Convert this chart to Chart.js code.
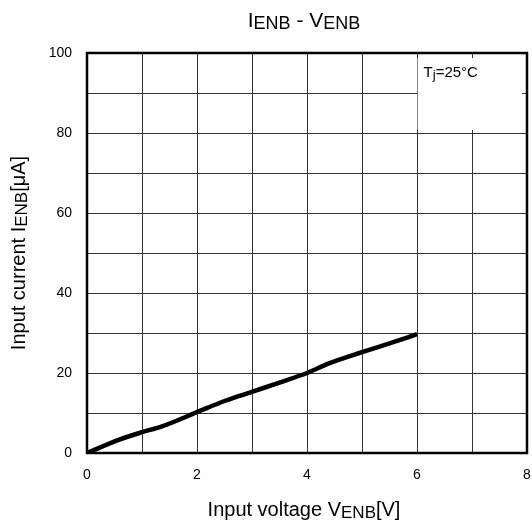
<!DOCTYPE html>
<html>
<head>
<meta charset="utf-8">
<script src="https://cdn.jsdelivr.net/npm/chart.js@4/dist/chart.umd.min.js"></script>
<style>
  html, body { margin: 0; padding: 0; background: #fff; }
  #wrap { width: 532px; height: 526px; }
</style>
</head>
<body>
<div id="wrap"><canvas id="c" width="532" height="526"></canvas></div>
<script>
// ---- data ----
const voltage = [0, 0.6, 1.0, 1.35, 2.0, 2.5, 3.0, 3.5, 4.0, 4.4, 5.0, 5.5, 6.0];
const current = [0, 3.4, 5.2, 6.6, 10.2, 13.0, 15.3, 17.6, 20.0, 22.4, 25.2, 27.4, 29.7];
const xTickLabels = [0, 2, 4, 6, 8];
const yTickLabels = [0, 20, 40, 60, 80, 100];
const titleParts = [['I', false], ['ENB', true], [' - V', false], ['ENB', true]];
const xTitleParts = [['Input voltage V', false], ['ENB', true], ['[V]', false]];
const yTitleParts = [['Input current I', false], ['ENB', true], ['[\u03BCA]', false]];
const noteParts = [['T', false], ['j', true], ['=25\u00B0C', false]];
const noteBox = { x0: 6, x1: 8, y0: 80, y1: 100 };

const FONT = '"Liberation Sans", Arial, sans-serif';

function richWidth(ctx, parts, size, subSize) {
  let w = 0;
  for (const [t, sub] of parts) {
    ctx.font = (sub ? subSize : size) + 'px ' + FONT;
    w += ctx.measureText(t).width;
  }
  return w;
}
function drawRich(ctx, parts, x, y, size, subSize, shift, align) {
  const w = richWidth(ctx, parts, size, subSize);
  let cx = align === 'center' ? x - w / 2 : x;
  ctx.textBaseline = 'alphabetic';
  ctx.textAlign = 'left';
  for (const [t, sub] of parts) {
    ctx.font = (sub ? subSize : size) + 'px ' + FONT;
    ctx.fillText(t, cx, y + (sub ? shift : 0));
    cx += ctx.measureText(t).width;
  }
}

const decor = {
  id: 'decor',
  beforeDatasetsDraw(chart) {
    const { ctx, scales: { x, y } } = chart;
    ctx.save();
    ctx.fillStyle = '#fff';
    const l = x.getPixelForValue(noteBox.x0) + 0.6;
    const r = x.getPixelForValue(noteBox.x1) - 5;
    const t = y.getPixelForValue(noteBox.y1) + 5;
    const b = y.getPixelForValue(noteBox.y0) - 3;
    ctx.fillRect(l, t, r - l, b - t);
    ctx.fillStyle = '#000';
    drawRich(ctx, noteParts, l + 6, t + 19, 15, 13, 2, 'left');
    ctx.restore();
  },
  afterDraw(chart) {
    const { ctx, chartArea: a } = chart;
    ctx.save();
    ctx.strokeStyle = '#000';
    ctx.lineWidth = 2.5;
    ctx.strokeRect(a.left, a.top, a.right - a.left, a.bottom - a.top);
    ctx.fillStyle = '#000';
    const cx = (a.left + a.right) / 2;
    drawRich(ctx, titleParts, cx - 3, 27, 21, 18, 1.5, 'center');
    drawRich(ctx, xTitleParts, cx - 3, 516, 20, 17, 1.5, 'center');
    ctx.translate(25, (a.top + a.bottom) / 2);
    ctx.rotate(-Math.PI / 2);
    drawRich(ctx, yTitleParts, 0, 0, 20, 17, 1.5, 'center');
    ctx.restore();
  }
};

new Chart(document.getElementById('c'), {
  type: 'line',
  data: {
    datasets: [{
      data: voltage.map((v, i) => ({ x: v, y: current[i] })),
      borderColor: '#000',
      borderWidth: 4.5,
      pointRadius: 0,
      tension: 0.3,
      cubicInterpolationMode: 'monotone',
      fill: false
    }]
  },
  options: {
    responsive: false,
    animation: false,
    layout: { padding: { top: 53, right: 5, left: 0, bottom: 0 } },
    plugins: { legend: { display: false }, tooltip: { enabled: false }, title: { display: false } },
    scales: {
      x: {
        type: 'linear', min: 0, max: 8,
        afterFit: s => { s.height = 73; s.paddingLeft = 0; s.paddingRight = 0; },
        grid: { color: '#333', lineWidth: 1, drawTicks: false },
        border: { display: false },
        ticks: {
          stepSize: 1, padding: 14, color: '#000', autoSkip: false, maxRotation: 0,
          font: { family: FONT, size: 14 },
          callback: v => xTickLabels.includes(v) ? String(v) : ''
        }
      },
      y: {
        type: 'linear', min: 0, max: 100,
        afterFit: s => { s.width = 87; s.paddingTop = 0; s.paddingBottom = 0; },
        grid: { color: '#333', lineWidth: 1, drawTicks: false },
        border: { display: false },
        ticks: {
          stepSize: 10, padding: 15, color: '#000', autoSkip: false,
          font: { family: FONT, size: 14 },
          callback: v => yTickLabels.includes(v) ? String(v) : ''
        }
      }
    }
  },
  plugins: [decor]
});
</script>
</body>
</html>
